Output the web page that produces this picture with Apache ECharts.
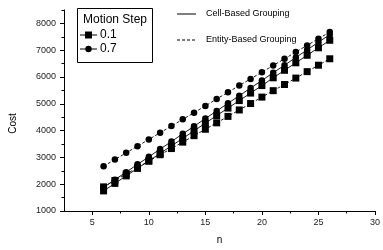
<!DOCTYPE html>
<html>
<head>
<meta charset="utf-8">
<script src="https://cdn.jsdelivr.net/npm/echarts@6/dist/echarts.min.js"></script>
<style>
  html, body { margin: 0; padding: 0; background: #fff; }
  #main { width: 383px; height: 250px; }
</style>
</head>
<body>
<div id="main"></div>
<script>
// n values (x)
var nValues = [6, 7, 8, 9, 10, 11, 12, 13, 14, 15, 16, 17, 18, 19, 20, 21, 22, 23, 24, 25, 26];
// Cell-Based Grouping
var cell01 = [1750, 2030, 2310, 2590, 2870, 3150, 3430, 3710, 3990, 4280, 4560, 4840, 5120, 5400, 5680, 5970, 6250, 6530, 6810, 7090, 7370];
var cell07 = [1880, 2170, 2450, 2740, 3020, 3310, 3590, 3880, 4160, 4450, 4730, 5020, 5300, 5590, 5870, 6160, 6440, 6730, 7010, 7300, 7580];
// Entity-Based Grouping
var entity01 = [1900, 2140, 2380, 2620, 2860, 3100, 3330, 3570, 3810, 4050, 4290, 4530, 4770, 5010, 5250, 5490, 5720, 5960, 6200, 6440, 6680];
var entity07 = [2670, 2920, 3170, 3420, 3670, 3920, 4170, 4420, 4670, 4920, 5180, 5430, 5680, 5930, 6180, 6430, 6680, 6930, 7180, 7430, 7680];

var xMajor = [5, 10, 15, 20, 25, 30];
var xMinor = [7.5, 12.5, 17.5, 22.5, 27.5];
var yMajor = [1000, 2000, 3000, 4000, 5000, 6000, 7000, 8000];
var yMinor = [1500, 2500, 3500, 4500, 5500, 6500, 7500, 8500];

var chartDom = document.getElementById('main');
var myChart = echarts.init(chartDom);
var option;

function pairs(ys) {
    return nValues.map(function (n, i) { return [n, ys[i]]; });
}

var FONT = 'Liberation Sans';

function mkSeries(name, ys, symbol, dashed) {
    return {
        name: name,
        type: 'line',
        data: pairs(ys),
        symbol: symbol,
        symbolSize: symbol === 'rect' ? 7 : 6.5,
        showSymbol: true,
        animation: false,
        itemStyle: { color: '#000' },
        lineStyle: { color: '#000', width: 0.9, type: dashed ? [3, 2] : 'solid' },
        z: 3
    };
}

option = {
    animation: false,
    grid: { left: 63, right: 4, top: 10, bottom: 30 },
    xAxis: [
        {
            type: 'value', min: 2.5, max: 30, position: 'bottom',
            name: 'n', nameLocation: 'middle', nameGap: 24,
            nameTextStyle: { color: '#000', fontSize: 10, fontFamily: FONT },
            axisLine: { lineStyle: { color: '#000', width: 1 } },
            axisTick: { customValues: xMajor, length: 4, lineStyle: { color: '#000' } },
            axisLabel: { customValues: xMajor, color: '#222', fontSize: 9, fontFamily: FONT, margin: 7 },
            splitLine: { show: false }
        },
        {
            type: 'value', min: 2.5, max: 30, position: 'bottom',
            axisLine: { show: false },
            axisTick: { customValues: xMinor, length: 2.5, lineStyle: { color: '#000' } },
            axisLabel: { show: false },
            splitLine: { show: false }
        }
    ],
    yAxis: [
        {
            type: 'value', min: 1000, max: 8500, position: 'left',
            name: 'Cost', nameLocation: 'middle', nameGap: 46,
            nameTextStyle: { color: '#000', fontSize: 10, fontFamily: FONT, padding: [0, 26, 0, 0] },
            axisLine: { show: true, lineStyle: { color: '#000', width: 1 } },
            axisTick: { show: true, customValues: yMajor, length: 4, lineStyle: { color: '#000' } },
            axisLabel: {
                customValues: yMajor, color: '#222', fontSize: 9, fontFamily: FONT, margin: 8,
                formatter: function (v) { return String(v); }
            },
            splitLine: { show: false }
        },
        {
            type: 'value', min: 1000, max: 8500, position: 'left',
            axisLine: { show: false },
            axisTick: { show: true, customValues: yMinor, length: 2.5, lineStyle: { color: '#000' } },
            axisLabel: { show: false },
            splitLine: { show: false }
        }
    ],
    series: [
        mkSeries('0.1', cell01, 'rect', false),
        mkSeries('0.7', cell07, 'circle', false),
        mkSeries('0.1', entity01, 'rect', true),
        mkSeries('0.7', entity07, 'circle', true)
    ],
    graphic: [
        // Motion Step legend box
        { type: 'rect', shape: { x: 77.5, y: 8.5, width: 75, height: 54 },
          style: { fill: '#fff', stroke: '#000', lineWidth: 1 }, z: 10 },
        { type: 'text', x: 83, y: 20, style: { text: 'Motion Step', fill: '#000', font: '12px "Liberation Sans"', textVerticalAlign: 'middle' }, z: 11 },
        { type: 'line', shape: { x1: 80, y1: 35, x2: 97, y2: 35 }, style: { stroke: '#000', lineWidth: 1 }, z: 11 },
        { type: 'rect', shape: { x: 85, y: 31.5, width: 7, height: 7 }, style: { fill: '#000' }, z: 11 },
        { type: 'text', x: 100, y: 35, style: { text: '0.1', fill: '#000', font: '12px "Liberation Sans"', textVerticalAlign: 'middle' }, z: 11 },
        { type: 'line', shape: { x1: 80, y1: 49, x2: 97, y2: 49 }, style: { stroke: '#000', lineWidth: 1 }, z: 11 },
        { type: 'circle', shape: { cx: 88.5, cy: 49, r: 3.2 }, style: { fill: '#000' }, z: 11 },
        { type: 'text', x: 100, y: 49, style: { text: '0.7', fill: '#000', font: '12px "Liberation Sans"', textVerticalAlign: 'middle' }, z: 11 },
        // grouping legend
        { type: 'line', shape: { x1: 177, y1: 14, x2: 196, y2: 14 }, style: { stroke: '#000', lineWidth: 1 }, z: 11 },
        { type: 'text', x: 206, y: 14, style: { text: 'Cell-Based Grouping', fill: '#000', font: '9px "Liberation Sans"', textVerticalAlign: 'middle' }, z: 11 },
        { type: 'line', shape: { x1: 177, y1: 40, x2: 196, y2: 40 }, style: { stroke: '#000', lineWidth: 1, lineDash: [3, 2] }, z: 11 },
        { type: 'text', x: 206, y: 40, style: { text: 'Entity-Based Grouping', fill: '#000', font: '9px "Liberation Sans"', textVerticalAlign: 'middle' }, z: 11 }
    ]
};

option && myChart.setOption(option);
</script>
</body>
</html>
